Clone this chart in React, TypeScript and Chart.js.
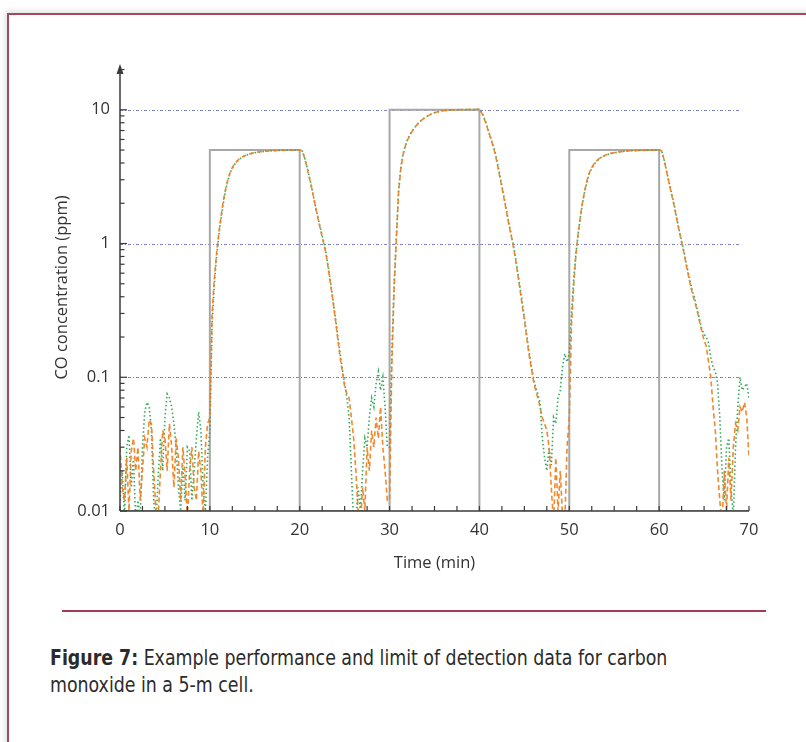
import React, { useEffect, useRef } from "react";
import { Chart, registerables } from "chart.js";

Chart.register(...registerables);

// ---- data -------------------------------------------------------------
const T_STEP = 0.25; // minutes between samples
const SEG_STARTS = [0, 10, 20, 30, 40, 50, 60];

const GREEN_00 = [0.012, 0.02, 0.009, 0.03, 0.037, 0.015, 0.025, 0.008, 0.012, 0.009, 0.03, 0.055, 0.065, 0.06, 0.04, 0.012, 0.008, 0.018, 0.035, 0.02, 0.05, 0.075, 0.07, 0.06, 0.045, 0.03, 0.015, 0.01, 0.022, 0.012, 0.03, 0.028, 0.012, 0.02, 0.035, 0.055, 0.04, 0.015, 0.01, 0.025];
const ORANGE_00 = [0.03, 0.015, 0.012, 0.025, 0.01, 0.028, 0.035, 0.02, 0.03, 0.012, 0.02, 0.035, 0.03, 0.048, 0.045, 0.02, 0.01, 0.009, 0.02, 0.04, 0.035, 0.02, 0.045, 0.03, 0.015, 0.035, 0.025, 0.012, 0.03, 0.018, 0.009, 0.02, 0.03, 0.015, 0.012, 0.028, 0.02, 0.009, 0.03, 0.045];

const GREEN_10 = [0.04, 0.25, 0.5, 0.8, 1.15, 1.55, 2.0, 2.5, 2.95, 3.35, 3.65, 3.9, 4.1, 4.25, 4.38, 4.48, 4.56, 4.63, 4.68, 4.73, 4.77, 4.8, 4.83, 4.86, 4.88, 4.9, 4.92, 4.93, 4.94, 4.95, 4.96, 4.97, 4.97, 4.98, 4.98, 4.99, 4.99, 5.0, 5.0, 5.0];
const ORANGE_10 = [0.05, 0.3, 0.55, 0.85, 1.2, 1.6, 2.1, 2.55, 3.0, 3.4, 3.7, 3.95, 4.12, 4.28, 4.4, 4.5, 4.58, 4.64, 4.7, 4.74, 4.78, 4.82, 4.85, 4.87, 4.89, 4.91, 4.92, 4.94, 4.95, 4.96, 4.96, 4.97, 4.98, 4.98, 4.99, 4.99, 5.0, 5.0, 5.0, 5.0];

const GREEN_20 = [5.0, 5.0, 4.5, 3.9, 3.3, 2.8, 2.3, 1.9, 1.6, 1.35, 1.15, 0.98, 0.8, 0.62, 0.48, 0.36, 0.27, 0.2, 0.15, 0.115, 0.09, 0.07, 0.05, 0.02, 0.008, 0.008, 0.015, 0.01, 0.02, 0.035, 0.03, 0.05, 0.07, 0.06, 0.09, 0.11, 0.08, 0.1, 0.06, 0.03];
const ORANGE_20 = [5.0, 4.95, 4.45, 3.85, 3.25, 2.75, 2.3, 1.9, 1.58, 1.32, 1.12, 0.95, 0.78, 0.6, 0.46, 0.35, 0.26, 0.19, 0.14, 0.11, 0.085, 0.075, 0.07, 0.05, 0.035, 0.02, 0.01, 0.008, 0.015, 0.01, 0.03, 0.02, 0.04, 0.03, 0.05, 0.035, 0.06, 0.03, 0.02, 0.012];

const GREEN_30 = [0.03, 0.15, 0.5, 1.1, 2.5, 3.7, 4.7, 5.4, 6.0, 6.5, 6.9, 7.3, 7.7, 8.0, 8.3, 8.55, 8.8, 9.0, 9.2, 9.35, 9.5, 9.6, 9.7, 9.78, 9.85, 9.9, 9.93, 9.96, 9.98, 10.0, 10.0, 10.02, 10.0, 10.03, 10.02, 10.05, 10.03, 10.05, 10.06, 10.08];
const ORANGE_30 = [0.012, 0.12, 0.45, 1.05, 2.4, 3.6, 4.6, 5.35, 5.95, 6.45, 6.9, 7.3, 7.65, 8.0, 8.3, 8.55, 8.8, 9.0, 9.2, 9.35, 9.5, 9.62, 9.72, 9.8, 9.86, 9.9, 9.95, 9.97, 9.99, 10.0, 10.02, 10.0, 10.03, 10.02, 10.04, 10.03, 10.05, 10.06, 10.05, 10.1];

const GREEN_40 = [10.1, 9.6, 8.8, 7.9, 7.0, 6.2, 5.5, 4.8, 4.0, 3.3, 2.7, 2.2, 1.8, 1.45, 1.2, 1.0, 0.8, 0.62, 0.48, 0.37, 0.28, 0.21, 0.16, 0.125, 0.1, 0.085, 0.075, 0.065, 0.035, 0.025, 0.02, 0.03, 0.022, 0.05, 0.045, 0.07, 0.08, 0.12, 0.15, 0.13];
const ORANGE_40 = [10.1, 9.5, 8.7, 7.8, 6.9, 6.1, 5.4, 4.7, 3.9, 3.2, 2.65, 2.15, 1.75, 1.42, 1.18, 0.97, 0.78, 0.6, 0.46, 0.35, 0.27, 0.2, 0.15, 0.12, 0.095, 0.08, 0.07, 0.06, 0.05, 0.045, 0.04, 0.03, 0.015, 0.008, 0.025, 0.01, 0.02, 0.009, 0.008, 0.03];

const GREEN_50 = [0.15, 0.3, 0.55, 0.85, 1.2, 1.6, 2.05, 2.5, 2.95, 3.35, 3.65, 3.9, 4.1, 4.25, 4.38, 4.48, 4.56, 4.63, 4.68, 4.73, 4.77, 4.8, 4.83, 4.86, 4.88, 4.9, 4.92, 4.93, 4.94, 4.95, 4.96, 4.97, 4.97, 4.98, 4.98, 4.99, 4.99, 5.0, 5.0, 5.0];
const ORANGE_50 = [0.05, 0.25, 0.5, 0.85, 1.2, 1.62, 2.1, 2.55, 3.0, 3.4, 3.7, 3.95, 4.12, 4.28, 4.4, 4.5, 4.58, 4.64, 4.7, 4.74, 4.78, 4.82, 4.85, 4.87, 4.89, 4.91, 4.92, 4.94, 4.95, 4.96, 4.96, 4.97, 4.98, 4.98, 4.99, 4.99, 5.0, 5.0, 5.0, 5.0];

const GREEN_60 = [5.0, 5.0, 4.4, 3.7, 3.1, 2.6, 2.2, 1.85, 1.5, 1.25, 1.05, 0.88, 0.72, 0.6, 0.5, 0.43, 0.38, 0.32, 0.27, 0.23, 0.21, 0.2, 0.18, 0.14, 0.12, 0.11, 0.09, 0.05, 0.02, 0.012, 0.03, 0.035, 0.015, 0.009, 0.03, 0.06, 0.1, 0.08, 0.085, 0.09, 0.07];
const ORANGE_60 = [5.0, 4.95, 4.35, 3.65, 3.05, 2.55, 2.15, 1.8, 1.48, 1.22, 1.02, 0.86, 0.7, 0.58, 0.48, 0.41, 0.36, 0.31, 0.26, 0.22, 0.19, 0.17, 0.13, 0.1, 0.06, 0.04, 0.02, 0.012, 0.008, 0.02, 0.01, 0.025, 0.012, 0.03, 0.045, 0.04, 0.06, 0.055, 0.065, 0.05, 0.025];

const GREEN_SEGMENTS = [GREEN_00, GREEN_10, GREEN_20, GREEN_30, GREEN_40, GREEN_50, GREEN_60];
const ORANGE_SEGMENTS = [ORANGE_00, ORANGE_10, ORANGE_20, ORANGE_30, ORANGE_40, ORANGE_50, ORANGE_60];

// reference (applied) concentration
const STEP_TIMES = [0, 10, 10, 20, 20, 30, 30, 40, 40, 50, 50, 60, 60, 70];
const STEP_VALUES = [0.01, 0.01, 5, 5, 0.01, 0.01, 10, 10, 0.01, 0.01, 5, 5, 0.01, 0.01];

const X_MIN = 0;
const X_MAX = 70;
const X_LABEL_STEP = 10;
const X_MINOR_STEP = 2.5;
const Y_MIN = 0.01;
const Y_MAX = 22;
const Y_TICKS = [0.01, 0.1, 1, 10];
const Y_TICK_LABELS = ["0.01", "0.1", "1", "10"];
const GRID_VALUES = [0.1, 1, 10];

const X_TITLE = "Time (min)";
const Y_TITLE = "CO concentration (ppm)";
const CAPTION_BOLD = "Figure 7:";
const CAPTION_LINE1 = " Example performance and limit of detection data for carbon";
const CAPTION_LINE2 = "monoxide in a 5-m cell.";

// ---- helpers ------------------------------------------------------------
function toPoints(segments: number[][]) {
  const pts: { x: number; y: number }[] = [];
  segments.forEach((seg, i) => {
    seg.forEach((v, j) => pts.push({ x: SEG_STARTS[i] + j * T_STEP, y: v }));
  });
  return pts;
}

const FONT = "'Open Sans', 'DejaVu Sans', sans-serif";
const AXIS_COLOR = "#3a3a3a";
const LABEL_SIZE = 16.5;

const axesPlugin = {
  id: "customAxes",
  beforeDatasetsDraw(chart: any) {
    const { ctx, chartArea, scales } = chart;
    const y = scales.y;
    ctx.save();
    ctx.strokeStyle = "rgba(100,100,190,0.8)";
    ctx.lineWidth = 1;
    ctx.setLineDash([3, 2, 1, 2]);
    for (const v of GRID_VALUES) {
      const py = Math.round(y.getPixelForValue(v)) + 0.5;
      ctx.beginPath();
      ctx.moveTo(chartArea.left, py);
      ctx.lineTo(chartArea.right - 8, py);
      ctx.stroke();
    }
    ctx.restore();
  },
  afterDatasetsDraw(chart: any) {
    const { ctx, chartArea, scales } = chart;
    const x = scales.x;
    const y = scales.y;
    const left = chartArea.left;
    const bottom = chartArea.bottom;
    ctx.save();
    ctx.strokeStyle = AXIS_COLOR;
    ctx.fillStyle = AXIS_COLOR;
    ctx.lineWidth = 1.5;
    ctx.beginPath();
    ctx.moveTo(left, bottom);
    ctx.lineTo(chartArea.right, bottom);
    ctx.stroke();
    ctx.beginPath();
    ctx.moveTo(left, bottom);
    ctx.lineTo(left, chartArea.top + 8);
    ctx.stroke();
    // arrow head
    ctx.beginPath();
    ctx.moveTo(left, chartArea.top);
    ctx.lineTo(left - 3.5, chartArea.top + 10);
    ctx.lineTo(left + 3.5, chartArea.top + 10);
    ctx.closePath();
    ctx.fill();
    // x ticks (pointing up)
    ctx.lineWidth = 1.2;
    for (let v = X_MIN; v <= X_MAX + 1e-9; v += X_MINOR_STEP) {
      const px = x.getPixelForValue(v);
      ctx.beginPath();
      ctx.moveTo(px, bottom);
      ctx.lineTo(px, bottom - 5);
      ctx.stroke();
    }
    // y ticks (pointing right), log minors
    for (const dec of Y_TICKS) {
      for (let k = 1; k <= 9; k++) {
        const v = dec * k;
        if (v > Y_MAX) break;
        const py = y.getPixelForValue(v);
        const len = k === 1 ? 7 : 4.5;
        ctx.beginPath();
        ctx.moveTo(left, py);
        ctx.lineTo(left + len, py);
        ctx.stroke();
      }
    }
    ctx.restore();
  },
};

export default function App() {
  const canvasRef = useRef<HTMLCanvasElement | null>(null);

  useEffect(() => {
    const canvas = canvasRef.current;
    if (!canvas) return;
    const chart = new Chart(canvas, {
      type: "line",
      data: {
        datasets: [
          {
            label: "orange",
            data: toPoints(ORANGE_SEGMENTS),
            borderColor: "rgba(240,130,35,0.95)",
            borderWidth: 1.6,
            borderDash: [5, 3],
            pointRadius: 0,
            tension: 0,
          },
          {
            label: "green",
            data: toPoints(GREEN_SEGMENTS),
            borderColor: "rgba(40,165,80,0.95)",
            borderWidth: 1.6,
            borderDash: [1.5, 2.5],
            pointRadius: 0,
            tension: 0,
          },
          {
            label: "applied",
            data: STEP_TIMES.map((t, i) => ({ x: t, y: STEP_VALUES[i] })),
            borderColor: "#a8a8a8",
            borderWidth: 2,
            pointRadius: 0,
            tension: 0,
          },
        ],
      },
      options: {
        responsive: false,
        animation: false,
        devicePixelRatio: 1,
        layout: { padding: { left: 0, right: 57, top: 64, bottom: 0 } },
        plugins: { legend: { display: false }, tooltip: { enabled: false } },
        scales: {
          x: {
            type: "linear",
            min: X_MIN,
            max: X_MAX,
            grid: { display: false, drawTicks: false },
            border: { display: false },
            ticks: {
              stepSize: X_LABEL_STEP,
              padding: 9,
              color: "#333",
              font: { family: FONT, size: LABEL_SIZE },
              callback: (v: any) => String(v),
            },
            title: {
              display: true,
              text: X_TITLE,
              color: "#333",
              font: { family: FONT, size: LABEL_SIZE },
              padding: { top: 0, bottom: 27 },
            },
            afterFit: (s: any) => {
              s.height = 89;
            },
          },
          y: {
            type: "logarithmic",
            min: Y_MIN,
            max: Y_MAX,
            grid: { display: false, drawTicks: false },
            border: { display: false },
            afterBuildTicks: (s: any) => {
              s.ticks = Y_TICKS.map((v) => ({ value: v }));
            },
            ticks: {
              padding: 10,
              color: "#333",
              font: { family: FONT, size: LABEL_SIZE },
              callback: (v: any) => {
                const i = Y_TICKS.indexOf(Number(v));
                return i >= 0 ? Y_TICK_LABELS[i] : "";
              },
            },
            title: {
              display: true,
              text: Y_TITLE,
              color: "#333",
              font: { family: FONT, size: LABEL_SIZE },
              padding: { top: 52, bottom: 0 },
            },
            afterFit: (s: any) => {
              s.width = 120;
            },
          },
        },
      },
      plugins: [axesPlugin],
    });
    return () => chart.destroy();
  }, []);

  const captionFont = "'Liberation Sans Narrow', 'DejaVu Sans Condensed', sans-serif";
  const lineStyle: React.CSSProperties = {
    display: "inline-block",
    whiteSpace: "nowrap",
    transform: "scaleX(0.92)",
    transformOrigin: "0 0",
  };

  return (
    <div
      style={{
        position: "fixed",
        left: 0,
        top: 0,
        width: 806,
        height: 742,
        overflow: "hidden",
        background: "#fff",
      }}
    >
      <div
        style={{
          position: "absolute",
          left: 7,
          top: 13,
          width: 900,
          height: 900,
          borderLeft: "2px solid #a5485f",
          borderTop: "2px solid #a5485f",
          boxShadow: "-2px -2px 6px rgba(0,0,0,0.12)",
          background: "#fff",
        }}
      />
      <canvas
        ref={canvasRef}
        width={806}
        height={600}
        style={{ position: "absolute", left: 0, top: 0, width: 806, height: 600 }}
      />
      <div
        style={{
          position: "absolute",
          left: 62,
          top: 610,
          width: 704,
          height: 2,
          background: "#a33a52",
          boxShadow: "0 5px 8px rgba(0,0,0,0.10)",
        }}
      />
      <div
        style={{
          position: "absolute",
          left: 50,
          top: 645,
          fontFamily: captionFont,
          fontSize: 21,
          lineHeight: "27px",
          color: "#2b2b2b",
        }}
      >
        <div>
          <span style={lineStyle}>
            <b>{CAPTION_BOLD}</b>
            {CAPTION_LINE1}
          </span>
        </div>
        <div>
          <span style={lineStyle}>{CAPTION_LINE2}</span>
        </div>
      </div>
    </div>
  );
}
